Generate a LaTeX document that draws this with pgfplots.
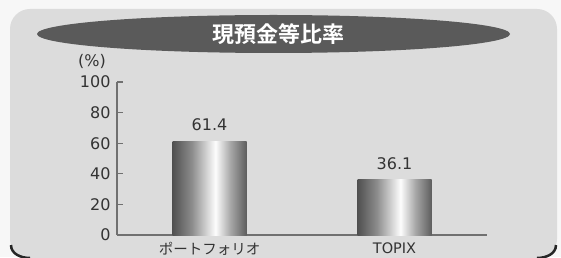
\documentclass[border=0pt]{standalone}
\usepackage{fontspec}
\setmainfont{DejaVu Sans}
\newfontfamily\jp{Noto Sans CJK JP}[BoldFont={Noto Sans CJK JP Bold}]
\usepackage{pgfplots}
\pgfplotsset{compat=1.18}
\definecolor{panel}{HTML}{DCDCDC}
\definecolor{titlebg}{HTML}{5A5A5A}
\definecolor{axcol}{HTML}{707070}
\definecolor{txt}{HTML}{333333}
\definecolor{ca}{HTML}{505050}
\definecolor{cb}{HTML}{8C8C8C}
\definecolor{cc}{HTML}{FDFDFD}
\definecolor{cd}{HTML}{A8A8A8}
\definecolor{ce}{HTML}{5E5E5E}
\pgfdeclarehorizontalshading{barshade}{100bp}{color(0bp)=(ca); color(25bp)=(ca); color(38bp)=(cb); color(54bp)=(cc); color(64bp)=(cd); color(75bp)=(ce); color(100bp)=(ce)}
\begin{document}
\begin{tikzpicture}
\useasboundingbox (0,0) rectangle (561pt,257pt);
\fill[white!97!black] (0,0) rectangle (561pt,257pt);
\fill[panel, rounded corners=20pt] (10pt,-2pt) rectangle (557pt,248pt);
\draw[black!85, line width=2.5pt] (11pt,12pt) to[out=-90,in=180] (30pt,-1pt);
\draw[black!85, line width=2.5pt] (556pt,12pt) to[out=-90,in=0] (537pt,-1pt);
\fill[titlebg] (273.5pt,223pt) ellipse [x radius=236.5pt, y radius=19pt];
\node[text=white, font=\jp\bfseries\fontsize{22}{26}\selectfont] at (278pt,223pt) {現預金等比率};
\node[text=txt, font=\fontsize{16}{18}\selectfont] at (92pt,196pt) {(\%)};
\begin{axis}[
  at={(117pt,22pt)}, anchor=south west,
  scale only axis, width=370pt, height=153pt,
  xmin=-0.5, xmax=1.5, ymin=0, ymax=100,
  axis lines=left,
  axis line style={-, draw=axcol, line width=1.4pt},
  ytick={0,20,40,60,80,100},
  xtick={0,1}, xticklabels={{\jp ポートフォリオ},TOPIX},
  x tick style={draw=none},
  y tick style={draw=axcol, line width=1.2pt},
  tick align=inside, major tick length=6pt,
  ticklabel style={text=txt},
  yticklabel style={font=\fontsize{16}{18}\selectfont, xshift=-3pt},
  xticklabel style={font=\fontsize{14.5}{16}\selectfont, yshift=2pt},
  /pgf/number format/assume math mode=true,
  ybar, bar width=74pt, bar shift=0pt,
  nodes near coords,
  nodes near coords style={text=txt, font=\fontsize{16}{18}\selectfont, /pgf/number format/fixed, /pgf/number format/precision=1, /pgf/number format/fixed zerofill, yshift=6.5pt},
  clip=false,
]
\addplot[shading=barshade, draw=none] coordinates {(0,61.4)};
\addplot[shading=barshade, draw=none] coordinates {(1,36.1)};
\end{axis}
\end{tikzpicture}
\end{document}
